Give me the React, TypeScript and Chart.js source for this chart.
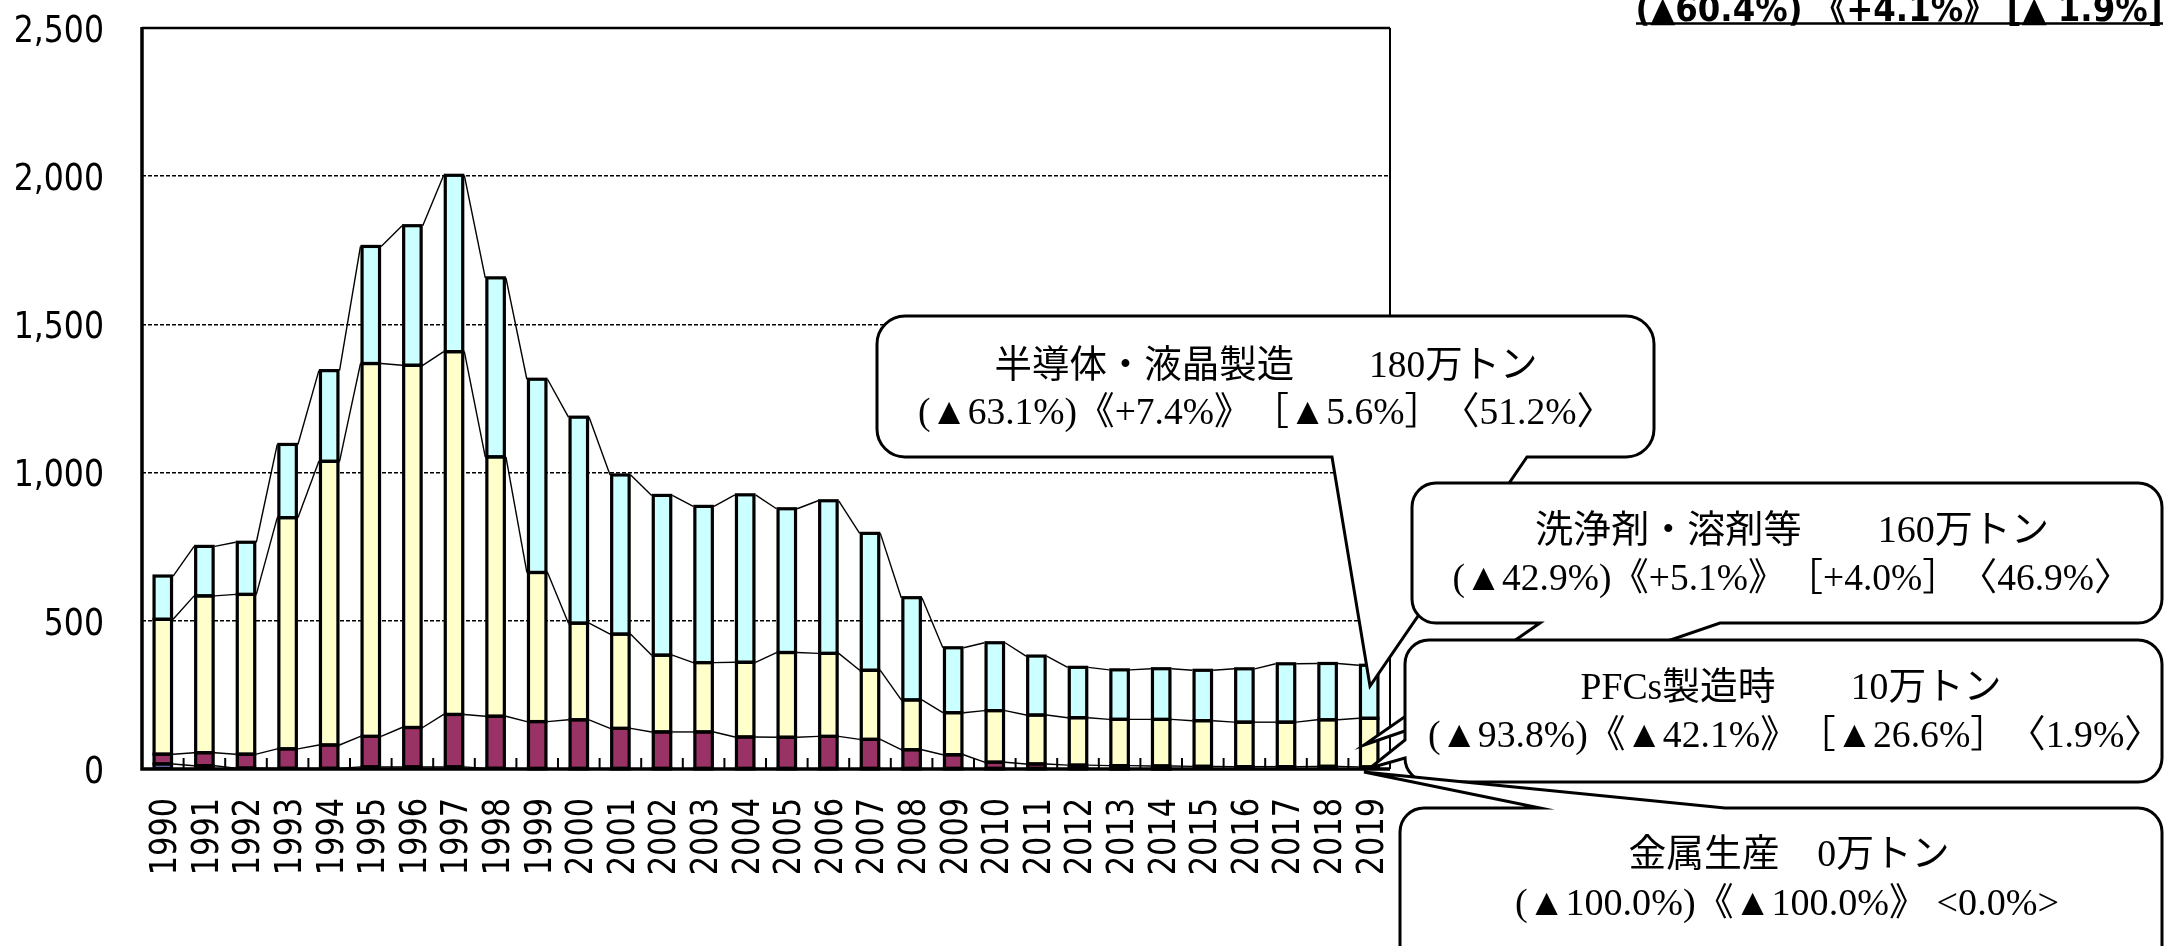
import React, { useEffect, useRef } from "react";
import { Chart, registerables } from "chart.js";

Chart.register(...registerables);

// ---------- data ----------
const years = [
  "1990", "1991", "1992", "1993", "1994", "1995", "1996", "1997", "1998", "1999",
  "2000", "2001", "2002", "2003", "2004", "2005", "2006", "2007", "2008", "2009",
  "2010", "2011", "2012", "2013", "2014", "2015", "2016", "2017", "2018", "2019",
];

// 万t-CO2, stacked bottom -> top
const metalProduction = [17, 11, 3, 2, 2, 7, 7, 7, 2, 1, 1, 1, 1, 1, 1, 1, 1, 1, 1, 1, 1, 1, 1, 0.5, 0.3, 0, 0, 0, 0, 0];
const pfcManufacturing = [33, 44, 47, 66, 79, 103, 133, 177, 176, 159, 165, 136, 124, 124, 107, 106, 109, 99, 64, 47, 22, 16, 12, 11, 10, 9, 8, 8, 9, 7];
const cleaningSolvents = [455, 529, 539, 780, 957, 1258, 1222, 1224, 875, 503, 326, 318, 259, 234, 252, 286, 280, 233, 168, 142, 174, 165, 160, 156, 157, 154, 150, 150, 157, 164];
const semiconductorLcd = [146, 167, 176, 247, 306, 395, 471, 595, 604, 652, 695, 537, 539, 527, 565, 485, 515, 462, 345, 219, 229, 199, 170, 167, 171, 170, 180, 197, 190, 179];

const yTickValues = [0, 500, 1000, 1500, 2000, 2500];
const yTickLabels = ["0", "500", "1,000", "1,500", "2,000", "2,500"];

const seriesNames = ["金属生産", "PFCs製造時", "洗浄剤・溶剤等", "半導体・液晶製造"];
const seriesColors = ["#9999FF", "#993366", "#FFFFCC", "#CCFFFF"];

const headerNote = "(▲60.4%) 《+4.1%》 [▲ 1.9%]";

const calloutSemiconductor = ["半導体・液晶製造　　180万トン", "(▲63.1%)《+7.4%》　［▲5.6%］　〈51.2%〉"];
const calloutCleaning = ["洗浄剤・溶剤等　　160万トン", "(▲42.9%)《+5.1%》　［+4.0%］　〈46.9%〉"];
const calloutPfc = ["PFCs製造時　　10万トン", "(▲93.8%)《▲42.1%》　［▲26.6%］　〈1.9%〉"];
const calloutMetal = ["金属生産　0万トン", "(▲100.0%)《▲100.0%》 <0.0%>"];

// ---------- layout ----------
const W = 2166;
const H = 946;
const PLOT = { left: 142, top: 28, right: 1390, bottom: 769 };
const BAR_OUTLINE = 3.2;

type Tail = { side: "bottom" | "left" | "top"; a: number; b: number; tip: [number, number] };
type Box = {
  x0: number; y0: number; x1: number; y1: number; r: number; tail: Tail;
  lines: string[]; cx: number[]; cy: number[]; tw: number[];
};

const boxes: Box[] = [
  { x0: 877, y0: 316, x1: 1654, y1: 457, r: 28, tail: { side: "bottom", a: 1527, b: 1332, tip: [1370, 686] },
    lines: calloutSemiconductor, cx: [1266, 1266], cy: [367, 414], tw: [543, 696] },
  { x0: 1412, y0: 483, x1: 2162, y1: 623, r: 24, tail: { side: "bottom", a: 1720, b: 1540, tip: [1364, 745] },
    lines: calloutCleaning, cx: [1792, 1792], cy: [532, 580], tw: [514, 679] },
  { x0: 1405, y0: 640, x1: 2162, y1: 782, r: 24, tail: { side: "left", a: 758, b: 740, tip: [1370, 768] },
    lines: calloutPfc, cx: [1791, 1795], cy: [689, 737], tw: [421, 734] },
  { x0: 1400, y0: 808, x1: 2162, y1: 1000, r: 24, tail: { side: "top", a: 1540, b: 1725, tip: [1364, 772] },
    lines: calloutMetal, cx: [1789, 1787], cy: [856, 905], tw: [321, 544] },
];

const CALLOUT_FONT = '38px "Liberation Serif", "Noto Sans CJK JP", serif';

function boxPath(ctx: CanvasRenderingContext2D, b: Box) {
  const { x0, y0, x1, y1, r, tail } = b;
  ctx.beginPath();
  ctx.moveTo(x0 + r, y0);
  if (tail.side === "top") {
    ctx.lineTo(tail.a, y0);
    ctx.lineTo(tail.tip[0], tail.tip[1]);
    ctx.lineTo(tail.b, y0);
  }
  ctx.lineTo(x1 - r, y0);
  ctx.arcTo(x1, y0, x1, y0 + r, r);
  ctx.lineTo(x1, y1 - r);
  ctx.arcTo(x1, y1, x1 - r, y1, r);
  if (tail.side === "bottom") {
    ctx.lineTo(tail.a, y1);
    ctx.lineTo(tail.tip[0], tail.tip[1]);
    ctx.lineTo(tail.b, y1);
  }
  ctx.lineTo(x0 + r, y1);
  ctx.arcTo(x0, y1, x0, y1 - r, r);
  if (tail.side === "left") {
    ctx.lineTo(x0, tail.a);
    ctx.lineTo(tail.tip[0], tail.tip[1]);
    ctx.lineTo(x0, tail.b);
  }
  ctx.lineTo(x0, y0 + r);
  ctx.arcTo(x0, y0, x0 + r, y0, r);
  ctx.closePath();
}

function fitText(ctx: CanvasRenderingContext2D, text: string, cx: number, y: number, targetW: number, baseline: CanvasTextBaseline) {
  const w = ctx.measureText(text).width;
  const sx = w > 0 ? targetW / w : 1;
  ctx.save();
  ctx.translate(cx, y);
  ctx.scale(sx, 1);
  ctx.textAlign = "center";
  ctx.textBaseline = baseline;
  ctx.fillText(text, 0, 0);
  ctx.restore();
}

const overlayPlugin = {
  id: "overlay",
  afterDatasetsDraw(chart: any) {
    const ctx: CanvasRenderingContext2D = chart.ctx;
    const area = chart.chartArea;
    const xs = chart.scales.x;
    const ys = chart.scales.y;
    const n = years.length;

    ctx.save();
    ctx.strokeStyle = "#000";

    // bar outlines centred on the segment edges
    ctx.lineWidth = BAR_OUTLINE;
    ctx.lineJoin = "miter";
    chart.data.datasets.forEach((_ds: any, di: number) => {
      const els = chart.getDatasetMeta(di).data;
      els.forEach((el: any) => {
        const p = el.getProps(["x", "y", "base", "width"], true);
        const h = Math.abs(p.base - p.y);
        if (h < 0.05) return;
        ctx.strokeRect(p.x - p.width / 2, Math.min(p.y, p.base), p.width, h);
      });
    });

    // series lines between bars
    ctx.lineWidth = 1.4;
    chart.data.datasets.forEach((_ds: any, di: number) => {
      const els = chart.getDatasetMeta(di).data;
      for (let i = 0; i < els.length - 1; i++) {
        const a = els[i].getProps(["x", "y", "width"], true);
        const b = els[i + 1].getProps(["x", "y", "width"], true);
        ctx.beginPath();
        ctx.moveTo(a.x + a.width / 2 + BAR_OUTLINE / 2, a.y);
        ctx.lineTo(b.x - b.width / 2 - BAR_OUTLINE / 2, b.y);
        ctx.stroke();
      }
    });

    // inward tick marks at category boundaries
    ctx.lineWidth = 2;
    for (let i = 1; i < n; i++) {
      const x = (xs.getPixelForValue(i - 1) + xs.getPixelForValue(i)) / 2;
      ctx.beginPath();
      ctx.moveTo(x, area.bottom);
      ctx.lineTo(x, area.bottom - 11);
      ctx.stroke();
    }

    // plot frame
    ctx.lineWidth = 2.5;
    ctx.beginPath();
    ctx.moveTo(area.left, area.top);
    ctx.lineTo(area.right, area.top);
    ctx.stroke();
    ctx.lineWidth = 2;
    ctx.beginPath();
    ctx.moveTo(area.right, area.top);
    ctx.lineTo(area.right, area.bottom);
    ctx.stroke();
    ctx.lineWidth = 3.5;
    ctx.beginPath();
    ctx.moveTo(area.left, area.top - 1);
    ctx.lineTo(area.left, area.bottom);
    ctx.lineTo(area.right, area.bottom);
    ctx.stroke();

    // y tick labels
    ctx.fillStyle = "#000";
    const yFont = 38;
    ctx.font = `${yFont}px "DejaVu Sans", sans-serif`;
    yTickValues.forEach((v, i) => {
      const y = ys.getPixelForValue(v);
      ctx.save();
      ctx.translate(104, y + (0.729 * yFont) / 2);
      ctx.scale(0.83, 1);
      ctx.textAlign = "right";
      ctx.textBaseline = "alphabetic";
      ctx.fillText(yTickLabels[i], 0, 0);
      ctx.restore();
    });

    // x tick labels (rotated)
    const xFont = 37;
    ctx.font = `${xFont}px "DejaVu Sans", sans-serif`;
    years.forEach((label, i) => {
      const x = xs.getPixelForValue(i);
      ctx.save();
      ctx.translate(x, 798);
      ctx.rotate(-Math.PI / 2);
      ctx.scale(0.82, 1);
      ctx.textAlign = "right";
      ctx.textBaseline = "alphabetic";
      ctx.fillText(label, 0, (0.729 * xFont) / 2);
      ctx.restore();
    });
    ctx.restore();
  },
  afterDraw(chart: any) {
    const ctx: CanvasRenderingContext2D = chart.ctx;
    ctx.save();
    // callouts
    boxes.forEach((b) => {
      boxPath(ctx, b);
      ctx.fillStyle = "#fff";
      ctx.fill();
      ctx.lineWidth = 3;
      ctx.lineJoin = "miter";
      ctx.strokeStyle = "#000";
      ctx.stroke();
      ctx.fillStyle = "#000";
      ctx.font = CALLOUT_FONT;
      b.lines.forEach((t, i) => fitText(ctx, t, b.cx[i], b.cy[i], b.tw[i], "middle"));
    });

    // header note (cut at the top edge)
    ctx.fillStyle = "#000";
    ctx.font = 'bold 35px "DejaVu Sans", "Noto Sans CJK JP", sans-serif';
    fitText(ctx, headerNote, 1899, 20.5, 527, "alphabetic");
    ctx.lineWidth = 2.5;
    ctx.beginPath();
    ctx.moveTo(1636, 23.5);
    ctx.lineTo(2163, 23.5);
    ctx.stroke();
    ctx.restore();
  },
};

export default function App() {
  const ref = useRef<HTMLCanvasElement | null>(null);

  useEffect(() => {
    if (!ref.current) return;
    const series = [metalProduction, pfcManufacturing, cleaningSolvents, semiconductorLcd];
    const chart = new Chart(ref.current, {
      type: "bar",
      data: {
        labels: years,
        datasets: series.map((d, i) => ({
          label: seriesNames[i],
          data: d,
          backgroundColor: seriesColors[i],
          borderWidth: 0,
          barPercentage: 0.42,
          categoryPercentage: 1.0,
        })),
      },
      options: {
        responsive: false,
        animation: false,
        devicePixelRatio: 1,
        layout: { padding: { left: PLOT.left, top: PLOT.top, right: W - PLOT.right, bottom: H - PLOT.bottom } },
        plugins: { legend: { display: false }, tooltip: { enabled: false }, title: { display: false } },
        scales: {
          x: {
            stacked: true,
            display: false,
            grid: { display: false },
            ticks: { display: false },
          },
          y: {
            stacked: true,
            min: 0,
            max: 2500,
            ticks: { display: false, stepSize: 500 },
            border: { display: false, dash: [4, 2] },
            grid: {
              drawTicks: false,
              lineWidth: 1.5,
              color: (c: any) => (c.tick && (c.tick.value === 0 || c.tick.value === 2500) ? "rgba(0,0,0,0)" : "#000"),
            },
            afterFit: (s: any) => {
              s.width = 0;
            },
          },
        },
      },
      plugins: [overlayPlugin],
    } as any);
    return () => chart.destroy();
  }, []);

  return (
    <div style={{ position: "absolute", left: 0, top: 0, width: W, height: H, background: "#fff" }}>
      <canvas ref={ref} width={W} height={H} style={{ display: "block", width: W, height: H }} />
    </div>
  );
}
